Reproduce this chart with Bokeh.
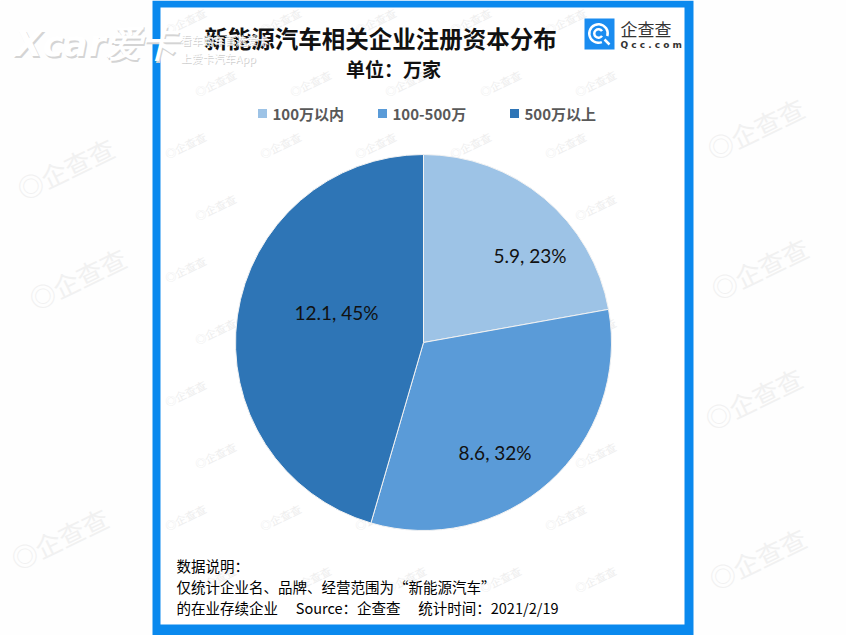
import numpy as np
from bokeh.plotting import figure
from bokeh.models import Range1d, ColumnDataSource
from bokeh.embed import file_html
from bokeh.resources import INLINE
from bokeh.core.properties import value

# ---------------- data ----------------
categories = ["100万以内", "100-500万", "500万以上"]
values = [5.9, 8.6, 12.1]
percent_labels = ["23%", "32%", "45%"]
colors = ["#9DC3E6", "#5A9BD8", "#2E75B6"]

title_text = "新能源汽车相关企业注册资本分布"
subtitle_text = "单位：万家"
note_lines = [
    "数据说明：",
    "仅统计企业名、品牌、经营范围为“新能源汽车”",
    "的在业存续企业\u3000\u00a0Source：企查查\u3000\u00a0统计时间：2021/2/19",
]

W, H = 846, 635
CJK = value("Noto Sans CJK SC")


def Y(py):
    return H - py


p = figure(width=W, height=H, x_range=Range1d(0, W), y_range=Range1d(0, H),
           output_backend="svg", toolbar_location=None, min_border=0)
p.axis.visible = False
p.grid.visible = False
p.outline_line_color = None
p.background_fill_color = "#FEFEFE"
p.border_fill_color = "#FEFEFE"

# ---------- faint outer watermarks ----------
big_x = [18, 30, 12, 708, 712, 706, 710]
big_y = [190, 300, 560, 150, 290, 420, 580]
p.text(x=big_x, y=[Y(v) for v in big_y], text=["◎企查查"] * len(big_x),
       text_font=CJK, text_font_size="26px", text_color="#F1F1F1",
       angle=0.45, text_align="left", text_baseline="middle")

# ---------- panel ----------
p.quad(left=[152], right=[693], top=[Y(0)], bottom=[Y(635)],
       fill_color="#0A89EE", line_color=None)
p.quad(left=[160], right=[684], top=[Y(7)], bottom=[Y(624)],
       fill_color="white", line_color=None)

# small watermarks inside panel
wx, wy = [], []
for r, py in enumerate(range(30, 620, 62)):
    off = 30 if r % 2 else 0
    for px in range(165 + off, 630, 95):
        wx.append(px)
        wy.append(Y(py))
p.text(x=wx, y=wy, text=["◎企查查"] * len(wx), text_font=CJK,
       text_font_size="11px", text_color="#EEEEEE", angle=0.45,
       text_align="left", text_baseline="middle")

# ---------- titles ----------
p.text(x=[380], y=[Y(37)], text=[title_text], text_font=CJK,
       text_font_size="23.5px", text_font_style="bold", text_color="#111111",
       text_align="center", text_baseline="middle")
p.text(x=[393], y=[Y(68)], text=[subtitle_text], text_font=CJK,
       text_font_size="19px", text_font_style="bold", text_color="#111111",
       text_align="center", text_baseline="middle")

# ---------- qcc logo ----------
p.rect(x=[599], y=[Y(33.5)], width=30, height=31, fill_color="#1A8CF0",
       line_color=None)
p.annular_wedge(x=[598], y=[Y(33)], inner_radius=8, outer_radius=10.5,
                start_angle=-0.3, end_angle=-1.2, direction="anticlock",
                fill_color="white", line_color=None)
p.annular_wedge(x=[598], y=[Y(33)], inner_radius=3, outer_radius=5.5,
                start_angle=0.6, end_angle=-0.6, direction="anticlock",
                fill_color="white", line_color=None)
p.segment(x0=[604], y0=[Y(39)], x1=[609], y1=[Y(44)], line_color="white",
          line_width=2.5)
p.text(x=[620], y=[Y(28)], text=["企查查"], text_font=CJK,
       text_font_size="17px", text_color="#333333", text_align="left",
       text_baseline="middle")
p.text(x=[620], y=[Y(44)], text=["Q c c . c o m"], text_font=value("DejaVu Sans"),
       text_font_size="9px", text_font_style="bold", text_color="#333333",
       text_align="left", text_baseline="middle")

# ---------- legend ----------
leg_sq_x = [262, 382, 514]
p.rect(x=leg_sq_x, y=[Y(113)] * 3, width=9, height=9, fill_color=colors,
       line_color=None)
p.text(x=[v + 10 for v in leg_sq_x], y=[Y(113)] * 3, text=categories,
       text_font=CJK, text_font_size="15px", text_font_style="bold",
       text_color="#595959", text_align="left", text_baseline="middle")

# ---------- pie ----------
cx, cy, R = 423, Y(342), 188
vals = np.array(values)
frac = vals / vals.sum()
cum = np.cumsum(frac)
prev = np.concatenate([[0], cum[:-1]])
start = np.pi / 2 - cum * 2 * np.pi
end = np.pi / 2 - prev * 2 * np.pi
src = ColumnDataSource(dict(start=start, end=end, color=colors))
p.wedge(x=cx, y=cy, radius=R, start_angle="start", end_angle="end",
        fill_color="color", line_color="#F2F2F2", line_width=1, source=src)

# data labels (placement nudges mimic the original best-fit layout)
label_r = [0.73, 0.70, 0.49]
label_nudge = [11, 9, 11]
mid_deg = (prev + frac / 2) * 360 + np.array(label_nudge)
lx = cx + np.array(label_r) * R * np.sin(np.radians(mid_deg))
ly = cy + np.array(label_r) * R * np.cos(np.radians(mid_deg))
labels = [f"{v}, {pc}" for v, pc in zip(values, percent_labels)]
p.text(x=lx, y=ly, text=labels, text_font=value("Lato"),
       text_font_size="19px", text_color="#111111", text_align="center",
       text_baseline="middle")

# ---------- notes ----------
p.text(x=[176] * 3, y=[Y(565), Y(586), Y(607)], text=note_lines,
       text_font=CJK, text_font_size="14.5px", text_color="#000000",
       text_align="left", text_baseline="middle")

# ---------- xcar watermark ----------
p.text(x=[15.5], y=[Y(44.5)], text=["Xcar爱卡"], text_font=value("DejaVu Sans"),
       text_font_size="36px", text_font_style="bold italic", text_color="#D4D4D4",
       text_align="left", text_baseline="middle")
p.text(x=[14], y=[Y(43)], text=["Xcar爱卡"], text_font=value("DejaVu Sans"),
       text_font_size="36px", text_font_style="bold italic", text_color="white",
       text_align="left", text_baseline="middle")
p.text(x=[181, 181], y=[Y(40), Y(58)], text=["看车购车首选爱卡", "上爱卡汽车App"],
       text_font=CJK, text_font_size="11px", text_color="#D0D0D0",
       text_align="left", text_baseline="middle")
p.text(x=[180, 180], y=[Y(39), Y(57)], text=["看车购车首选爱卡", "上爱卡汽车App"],
       text_font=CJK, text_font_size="11px", text_color="white",
       text_align="left", text_baseline="middle")

open("out.html", "w").write(file_html(p, INLINE))
